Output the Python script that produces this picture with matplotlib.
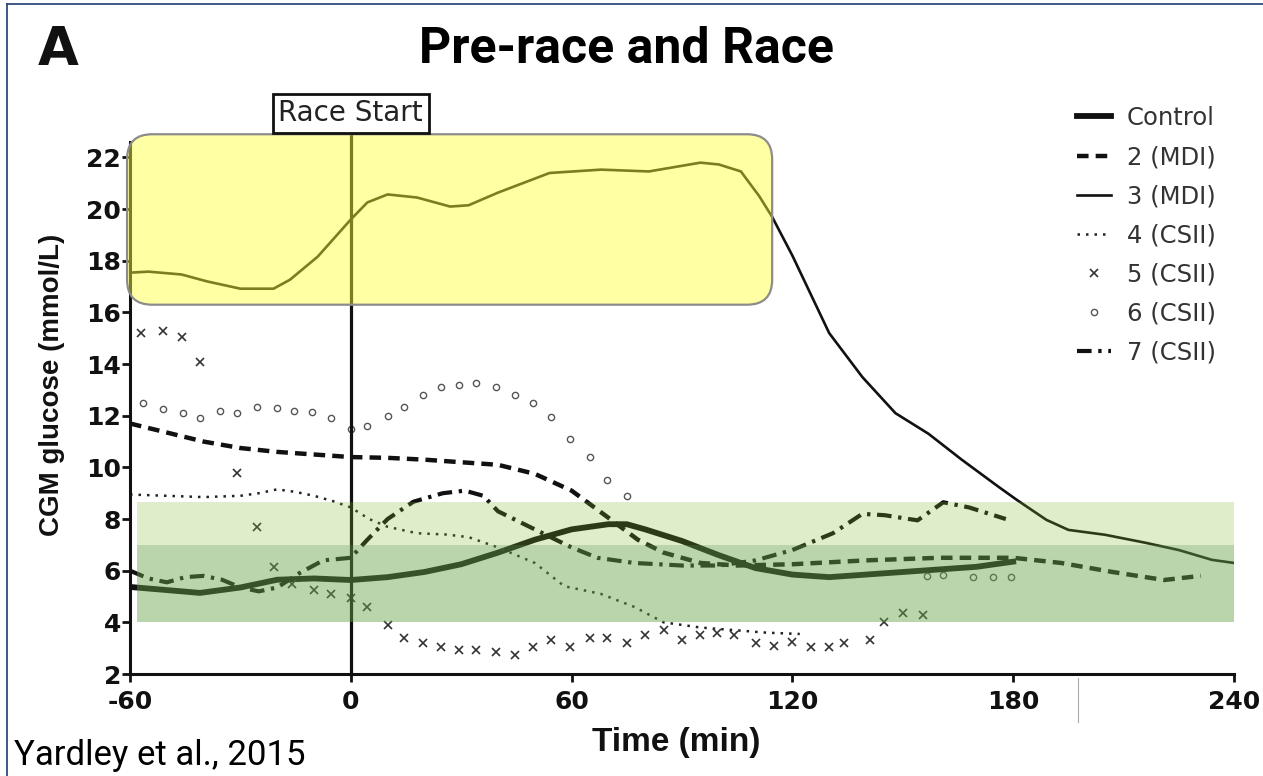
import numpy as np
import matplotlib.pyplot as plt
from matplotlib.patches import FancyBboxPatch, Rectangle
from matplotlib.lines import Line2D

plt.rcParams['axes.unicode_minus'] = False
plt.rcParams['font.family'] = 'DejaVu Sans'

# ---- data (time in min, CGM glucose in mmol/L) ----
control_t = [-60, -50, -41, -30, -20, -10, 0, 10, 20, 30, 40, 50, 60, 70, 75, 80,
             90, 100, 110, 120, 130, 140, 150, 160, 170, 180]
control_v = [5.37, 5.25, 5.14, 5.35, 5.65, 5.7, 5.64, 5.75, 5.95, 6.25, 6.7, 7.2,
             7.6, 7.8, 7.8, 7.6, 7.15, 6.6, 6.1, 5.85, 5.75, 5.85, 5.95, 6.05, 6.15, 6.35]

mdi2_t = [-60, -50, -40, -30, -20, -10, 0, 10, 20, 30, 40, 50, 60, 70, 78, 85, 95,
          105, 120, 140, 160, 180, 193, 207, 221, 231]
mdi2_v = [11.7, 11.35, 11.0, 10.75, 10.6, 10.5, 10.4, 10.37, 10.3, 10.2, 10.1, 9.75,
          9.1, 8.05, 7.2, 6.7, 6.3, 6.2, 6.25, 6.4, 6.5, 6.5, 6.3, 5.95, 5.64, 5.8]

mdi3_t = [-60, -55, -46, -39, -30, -21, -16.5, -9, -5, 0, 4.5, 10, 18, 27, 32, 40,
          54, 68, 81, 95, 100, 106, 111, 114.5, 120, 125, 130, 139, 148, 157, 166,
          176, 181, 189, 195, 205, 216, 225, 234, 240]
mdi3_v = [17.54, 17.58, 17.47, 17.2, 16.92, 16.92, 17.27, 18.16, 18.8, 19.6, 20.26,
          20.57, 20.45, 20.1, 20.15, 20.64, 21.4, 21.53, 21.46, 21.8, 21.73, 21.46,
          20.5, 19.7, 18.2, 16.7, 15.2, 13.5, 12.1, 11.3, 10.3, 9.25, 8.74, 7.97,
          7.58, 7.39, 7.08, 6.8, 6.42, 6.3]

csii4_t = [-60, -50, -40, -30, -25, -20, -15, -10, -5, 0, 5, 10, 18, 26, 32, 40, 50,
           58, 68, 77, 85, 95, 104, 113, 122]
csii4_v = [8.95, 8.9, 8.85, 8.9, 9.0, 9.15, 9.05, 8.9, 8.7, 8.45, 8.0, 7.7, 7.45,
           7.4, 7.3, 6.9, 6.3, 5.4, 5.1, 4.6, 4.0, 3.8, 3.7, 3.6, 3.55]

csii5_t = [-57, -51, -46, -41, -31, -25.5, -21, -16, -10, -5.5, 0, 4.5, 10, 14.5,
           19.5, 24.5, 29.5, 34, 39.5, 44.5, 49.5, 54.5, 59.5, 65, 69.5, 75, 80, 85,
           90, 95, 99.5, 104, 110, 115, 120, 125, 130, 134, 141, 145, 150, 155.5]
csii5_v = [15.2, 15.3, 15.05, 14.1, 9.8, 7.7, 6.15, 5.5, 5.25, 5.1, 4.95, 4.6, 3.9,
           3.4, 3.2, 3.05, 2.93, 2.93, 2.85, 2.74, 3.05, 3.3, 3.05, 3.4, 3.4, 3.2,
           3.5, 3.7, 3.3, 3.5, 3.6, 3.5, 3.2, 3.1, 3.24, 3.05, 3.05, 3.2, 3.3, 4.0,
           4.35, 4.3]

csii6_t = [-56.5, -51, -45.5, -41, -35.5, -31, -25.5, -20, -15.5, -10.5, -5.5, 0,
           4.5, 10, 14.5, 19.5, 24.5, 29.5, 34, 39.5, 44.5, 49.5, 54.5, 59.5, 65,
           69.5, 75, 156.5, 161, 169, 174.5, 179.5]
csii6_v = [12.5, 12.25, 12.1, 11.9, 12.2, 12.1, 12.35, 12.3, 12.2, 12.15, 11.9,
           11.5, 11.6, 12.0, 12.35, 12.8, 13.1, 13.2, 13.27, 13.1, 12.8, 12.5, 11.95,
           11.1, 10.4, 9.5, 8.9, 5.8, 5.85, 5.75, 5.75, 5.75]

csii7_t = [-60, -55, -50, -45, -40, -35, -30, -25, -20, -14, -7.5, 0, 4.5, 10, 17,
           25, 31, 36, 40, 50, 60, 67, 77, 90, 100, 110, 120, 131, 139, 145, 154,
           161, 168, 178]
csii7_v = [6.0, 5.7, 5.55, 5.75, 5.8, 5.65, 5.35, 5.2, 5.35, 5.9, 6.4, 6.5, 7.2,
           8.0, 8.67, 9.0, 9.1, 8.9, 8.3, 7.6, 6.9, 6.5, 6.3, 6.2, 6.2, 6.4, 6.8,
           7.45, 8.2, 8.15, 7.95, 8.65, 8.45, 8.0]

labels = ['Control', '2 (MDI)', '3 (MDI)', '4 (CSII)', '5 (CSII)', '6 (CSII)', '7 (CSII)']
xticks = [-60, 0, 60, 120, 180, 240]
yticks = [2, 4, 6, 8, 10, 12, 14, 16, 18, 20, 22]

W, H = 1263, 776


def fx(px):
    return px / W


def fy(py):
    return 1 - py / H


fig = plt.figure(figsize=(W / 100, H / 100), dpi=100)
ax = fig.add_axes([fx(130), fy(674), 1104 / W, 532 / H])

ink = '#111111'
h_ctrl, = ax.plot(control_t, control_v, color=ink, lw=4.2, label=labels[0], zorder=2)
h2, = ax.plot(mdi2_t, mdi2_v, color=ink, lw=3.2, ls=(0, (2.6, 1.6)), label=labels[1], zorder=2)
h3, = ax.plot(mdi3_t, mdi3_v, color=ink, lw=1.9, label=labels[2], zorder=2)
h4, = ax.plot(csii4_t, csii4_v, color='#222222', lw=1.8, ls=(0, (1, 2.4)), label=labels[3], zorder=2)
h5, = ax.plot(csii5_t, csii5_v, ls='none', marker='x', ms=5.5, mew=1.2, color='#333333',
              label=labels[4], zorder=2)
h6, = ax.plot(csii6_t, csii6_v, ls='none', marker='o', ms=4.5, mew=1.0, mfc='none',
              color='#555555', label=labels[5], zorder=2)
h7, = ax.plot(csii7_t, csii7_v, color=ink, lw=3, ls=(0, (3.5, 1.6, 0.8, 1.6)),
              label=labels[6], zorder=2)

# race start marker
ax.plot([0, 0], [2, 22.9], color=ink, lw=2.3, clip_on=False, zorder=2)
ax.text(0, 23.72, 'Race Start', ha='center', va='center', fontsize=20, color='#222222',
        bbox=dict(boxstyle='square,pad=0.2', fc='white', ec=ink, lw=2),
        clip_on=False, zorder=7)

# target range bands (drawn over the curves)
ax.add_patch(Rectangle((-58, 7.0), 298, 1.67, facecolor=(0.5, 0.72, 0.2), alpha=0.25,
                       lw=0, zorder=5))
ax.add_patch(Rectangle((-58, 4.0), 298, 3.0, facecolor=(0.4, 0.64, 0.27), alpha=0.45,
                       lw=0, zorder=5))

# yellow highlight box
ax.add_patch(FancyBboxPatch((-60.8, 16.3), 175.3, 6.6,
                            boxstyle='round,pad=0,rounding_size=6.8',
                            mutation_aspect=0.1427, fc=(1, 1, 0.2, 0.45),
                            ec='#8c8c8c', lw=1.6, clip_on=False, zorder=6))

ax.set_xlim(-60, 240)
ax.set_ylim(2, 22.6)
ax.set_xticks(xticks)
ax.set_yticks(yticks)
for s in ['top', 'right']:
    ax.spines[s].set_visible(False)
for s in ['left', 'bottom']:
    ax.spines[s].set_linewidth(2.2)
    ax.spines[s].set_color(ink)
ax.tick_params(axis='both', direction='out', length=5.5, width=2, color=ink,
               labelsize=18, labelcolor=ink)
ax.tick_params(axis='x', pad=6)
ax.tick_params(axis='y', pad=1)
for lab in ax.get_xticklabels() + ax.get_yticklabels():
    lab.set_fontweight('bold')

fig.text(fx(52), fy(385), 'CGM glucose (mmol/L)', rotation=90, ha='center', va='center',
         fontsize=20, fontweight='bold', family='Liberation Sans', color=ink)
fig.text(fx(676), fy(751), 'Time (min)', ha='center', va='baseline',
         fontsize=24, fontweight='bold', family='Liberation Sans', color=ink)

fig.legend([h_ctrl, h2, h3, h4, h5, h6, h7], labels, loc='upper left',
           bbox_to_anchor=(fx(1077), fy(106)), frameon=False, fontsize=17.5,
           handlelength=1.4, handletextpad=0.65, labelspacing=0.62,
           borderpad=0, borderaxespad=0, labelcolor='#333333', numpoints=1)

fig.text(fx(38), fy(65), 'A', fontsize=38, fontweight='bold', color=ink)
fig.text(fx(626), fy(63), 'Pre-race and Race', ha='center', va='baseline', fontsize=36,
         fontweight='bold', family='Roboto', color='black')
fig.text(fx(14), fy(765), 'Yardley et al., 2015', va='baseline', fontsize=25,
         family='Roboto', color='black')

# stray tick below axis and frame edges from the source slide
fig.add_artist(Line2D([fx(1078)] * 2, [fy(678), fy(722)], color='#aaaaaa', lw=0.8))
fig.add_artist(Line2D([fx(7), 1], [fy(4), fy(4)], color='#2f4b7c', lw=1.3))
fig.add_artist(Line2D([fx(7)] * 2, [fy(4), 0], color='#2f4b7c', lw=1.3))

fig.savefig('out.png', dpi=100)
